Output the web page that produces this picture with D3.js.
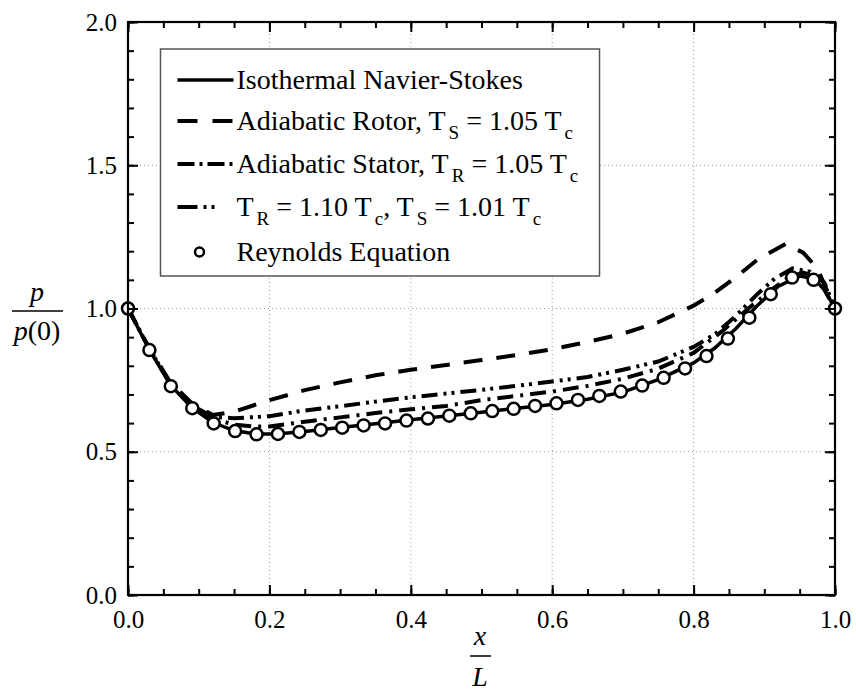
<!DOCTYPE html>
<html>
<head>
<meta charset="utf-8">
<script src="https://cdn.jsdelivr.net/npm/d3@7"></script>
<style>
  body { margin: 0; background: #fff; }
  svg text { font-family: "Liberation Serif", "Times New Roman", Times, serif; fill: #000; }
</style>
</head>
<body>
<div class="chart"></div>
<script>
// Isothermal Navier-Stokes (solid)
var isoX = [0, 0.03, 0.06, 0.09, 0.12, 0.15, 0.18, 0.21, 0.25, 0.30, 0.35, 0.40, 0.45, 0.50, 0.55, 0.60, 0.65, 0.70, 0.75, 0.80, 0.83, 0.86, 0.89, 0.92, 0.95, 0.97, 0.985, 1.0];
var isoY = [1.0, 0.857, 0.733, 0.655, 0.602, 0.574, 0.562, 0.562, 0.571, 0.585, 0.598, 0.612, 0.625, 0.638, 0.652, 0.665, 0.683, 0.708, 0.752, 0.81, 0.862, 0.93, 1.01, 1.078, 1.113, 1.105, 1.065, 1.0];

// Adiabatic rotor (dashed)
var rotorX = [0, 0.03, 0.06, 0.09, 0.12, 0.15, 0.20, 0.25, 0.30, 0.35, 0.40, 0.45, 0.50, 0.55, 0.60, 0.65, 0.70, 0.75, 0.80, 0.83, 0.86, 0.89, 0.93, 0.955, 0.975, 1.0];
var rotorY = [1.0, 0.862, 0.742, 0.67, 0.628, 0.64, 0.68, 0.715, 0.742, 0.767, 0.786, 0.803, 0.82, 0.838, 0.858, 0.883, 0.912, 0.952, 1.01, 1.055, 1.11, 1.17, 1.225, 1.195, 1.14, 1.0];

// Adiabatic stator (dash-dot)
var statorX = [0, 0.03, 0.06, 0.09, 0.12, 0.15, 0.18, 0.20, 0.25, 0.30, 0.35, 0.40, 0.45, 0.50, 0.55, 0.60, 0.65, 0.70, 0.75, 0.80, 0.84, 0.88, 0.91, 0.935, 0.955, 0.975, 1.0];
var statorY = [1.0, 0.86, 0.737, 0.662, 0.615, 0.595, 0.588, 0.588, 0.605, 0.62, 0.635, 0.648, 0.66, 0.68, 0.695, 0.71, 0.73, 0.755, 0.79, 0.845, 0.92, 1.005, 1.065, 1.11, 1.125, 1.11, 1.0];

// T_R = 1.10 Tc, T_S = 1.01 Tc (dash-dot-dot)
var bothX = [0, 0.03, 0.06, 0.09, 0.12, 0.15, 0.20, 0.25, 0.30, 0.35, 0.40, 0.45, 0.50, 0.55, 0.60, 0.65, 0.70, 0.75, 0.80, 0.83, 0.86, 0.89, 0.915, 0.94, 0.965, 0.985, 1.0];
var bothY = [1.0, 0.86, 0.737, 0.662, 0.622, 0.617, 0.624, 0.644, 0.659, 0.675, 0.69, 0.703, 0.716, 0.73, 0.745, 0.761, 0.786, 0.815, 0.866, 0.91, 0.975, 1.05, 1.105, 1.14, 1.128, 1.09, 1.0];

// Reynolds equation (circles), x = i/33
var reyX = [0, 0.0303, 0.0606, 0.0909, 0.1212, 0.1515, 0.1818, 0.2121, 0.2424, 0.2727, 0.3030, 0.3333, 0.3636, 0.3939, 0.4242, 0.4545, 0.4848, 0.5152, 0.5455, 0.5758, 0.6061, 0.6364, 0.6667, 0.6970, 0.7273, 0.7576, 0.7879, 0.8182, 0.8485, 0.8788, 0.9091, 0.9394, 0.9697, 1.0];
var reyY = [1.0, 0.855, 0.729, 0.652, 0.599, 0.572, 0.561, 0.562, 0.569, 0.576, 0.584, 0.592, 0.599, 0.609, 0.616, 0.626, 0.634, 0.642, 0.650, 0.660, 0.669, 0.681, 0.695, 0.710, 0.731, 0.758, 0.791, 0.834, 0.895, 0.968, 1.050, 1.108, 1.100, 1.0];

var xTicks = [0, 0.2, 0.4, 0.6, 0.8, 1.0];
var yTicks = [0, 0.5, 1.0, 1.5, 2.0];

var W = 856, H = 692;
var margin = {top: 22, right: 21, bottom: 97, left: 128};
var width = W - margin.left - margin.right, height = H - margin.top - margin.bottom;
var serif = "'Liberation Serif', 'Times New Roman', Times, serif";

var svg = d3.select(".chart").append("svg")
  .attr("width", W).attr("height", H)
  .attr("font-family", serif)
  .append("g")
  .attr("transform", "translate(" + margin.left + "," + margin.top + ")");

var x = d3.scaleLinear().domain([0, 1]).range([0, width]);
var y = d3.scaleLinear().domain([0, 2]).range([height, 0]);

// grid
svg.append("g").selectAll("line").data(xTicks.slice(1, -1)).enter().append("line")
  .attr("x1", function(d) { return x(d); }).attr("x2", function(d) { return x(d); })
  .attr("y1", 0).attr("y2", height)
  .attr("stroke", "#999").attr("stroke-width", 1).attr("stroke-dasharray", "1,3");
svg.append("g").selectAll("line").data(yTicks.slice(1, -1)).enter().append("line")
  .attr("y1", function(d) { return y(d); }).attr("y2", function(d) { return y(d); })
  .attr("x1", 0).attr("x2", width)
  .attr("stroke", "#999").attr("stroke-width", 1).attr("stroke-dasharray", "1,3");

function pts(xs, ys) { return xs.map(function(d, i) { return [d, ys[i]]; }); }
var line = d3.line().x(function(d) { return x(d[0]); }).y(function(d) { return y(d[1]); });

var series = [
  {data: pts(bothX, bothY), dash: "16,6,3,5,3,6", w: 4},
  {data: pts(statorX, statorY), dash: "16,7,3,7", w: 4},
  {data: pts(rotorX, rotorY), dash: "19,14", w: 4},
  {data: pts(isoX, isoY), dash: null, w: 3.5}
];

svg.selectAll(".curve").data(series).enter().append("path")
  .attr("class", "curve")
  .attr("d", function(d) { return line(d.data); })
  .attr("fill", "none").attr("stroke", "#000")
  .attr("stroke-width", function(d) { return d.w; })
  .attr("stroke-dasharray", function(d) { return d.dash; });

svg.selectAll(".rey").data(pts(reyX, reyY)).enter().append("circle")
  .attr("class", "rey")
  .attr("cx", function(d) { return x(d[0]); })
  .attr("cy", function(d) { return y(d[1]); })
  .attr("r", 6).attr("fill", "#fff").attr("stroke", "#000").attr("stroke-width", 2.5);

// axes: ticks inward on all four sides
function drawAxis(axis, tr) {
  var g = svg.append("g").attr("transform", tr).call(axis);
  g.attr("font-family", serif);
  g.select(".domain").remove();
  g.selectAll("line").attr("stroke", "#000").attr("stroke-width", 2);
  return g;
}
var xMinor = d3.range(0, 1.0001, 0.05);
var yMinor = d3.range(0, 2.0001, 0.1);

drawAxis(d3.axisBottom(x).tickValues(xMinor).tickSize(-6).tickFormat(""), "translate(0," + height + ")");
drawAxis(d3.axisTop(x).tickValues(xMinor).tickSize(-6).tickFormat(""), "translate(0,0)");
drawAxis(d3.axisLeft(y).tickValues(yMinor).tickSize(-6).tickFormat(""), "translate(0,0)");
drawAxis(d3.axisRight(y).tickValues(yMinor).tickSize(-6).tickFormat(""), "translate(" + width + ",0)");

var xb = drawAxis(d3.axisBottom(x).tickValues(xTicks).tickSize(-10).tickPadding(24).tickFormat(d3.format(".1f")), "translate(0," + height + ")");
xb.selectAll("text").attr("font-size", 25).attr("dy", "0.35em");
drawAxis(d3.axisTop(x).tickValues(xTicks).tickSize(-10).tickFormat(""), "translate(0,0)");
var yl = drawAxis(d3.axisLeft(y).tickValues(yTicks).tickSize(-10).tickPadding(11).tickFormat(d3.format(".1f")), "translate(0,0)");
yl.selectAll("text").attr("font-size", 25);
drawAxis(d3.axisRight(y).tickValues(yTicks).tickSize(-10).tickFormat(""), "translate(" + width + ",0)");

svg.append("rect").attr("x", 0).attr("y", 0).attr("width", width).attr("height", height)
  .attr("fill", "none").attr("stroke", "#000").attr("stroke-width", 2.2);

// legend
var lg = svg.append("g").attr("transform", "translate(" + (160.5 - margin.left) + "," + (49 - margin.top) + ")");
lg.append("rect").attr("width", 439).attr("height", 227)
  .attr("fill", "#fff").attr("stroke", "#555").attr("stroke-width", 1.5);

var legendRows = [
  {y: 31, dash: null, w: 3.5, parts: [["Isothermal Navier-Stokes"]]},
  {y: 72, dash: "20,15", w: 4, parts: [["Adiabatic Rotor, T"], ["S", 1], [" = 1.05 T"], ["c", 1]]},
  {y: 115, dash: "17,5,3,5,17,5,3", w: 4, parts: [["Adiabatic Stator, T"], ["R", 1], [" = 1.05 T"], ["c", 1]]},
  {y: 158, dash: "20,6,3,5,3,30", w: 4, parts: [["T"], ["R", 1], [" = 1.10 T"], ["c", 1], [", T"], ["S", 1], [" = 1.01 T"], ["c", 1]]},
  {y: 203, marker: true, parts: [["Reynolds Equation"]]}
];

legendRows.forEach(function(r) {
  if (r.marker) {
    lg.append("circle").attr("cx", 39).attr("cy", r.y).attr("r", 4.5)
      .attr("fill", "#fff").attr("stroke", "#000").attr("stroke-width", 2.5);
  } else {
    lg.append("line").attr("x1", 17).attr("x2", 73).attr("y1", r.y).attr("y2", r.y)
      .attr("stroke", "#000").attr("stroke-width", r.w).attr("stroke-dasharray", r.dash);
  }
  var t = lg.append("text").attr("x", 76).attr("y", r.y + 9).attr("font-size", 28);
  var shifted = false;
  r.parts.forEach(function(p) {
    var sp = t.append("tspan").text(p[0]);
    if (p[1]) { sp.attr("font-size", 19).attr("dy", 9).attr("dx", 3); shifted = true; }
    else if (shifted) { sp.attr("dy", -9); shifted = false; }
  });
});

// axis titles as fractions
var ylab = svg.append("g").attr("transform", "translate(" + (37 - margin.left) + "," + (311 - margin.top) + ")");
ylab.append("text").attr("x", 0).attr("y", -10).attr("text-anchor", "middle")
  .attr("font-size", 28).attr("font-style", "italic").text("p");
ylab.append("line").attr("x1", -25).attr("x2", 26).attr("y1", 0).attr("y2", 0)
  .attr("stroke", "#000").attr("stroke-width", 1.5);
var den = ylab.append("text").attr("x", 0).attr("y", 29).attr("text-anchor", "middle").attr("font-size", 28);
den.append("tspan").attr("font-style", "italic").text("p");
den.append("tspan").text("(0)");

var xlab = svg.append("g").attr("transform", "translate(" + (480 - margin.left) + "," + (656 - margin.top) + ")");
xlab.append("text").attr("x", 0).attr("y", -11).attr("text-anchor", "middle")
  .attr("font-size", 28).attr("font-style", "italic").text("x");
xlab.append("line").attr("x1", -10).attr("x2", 11).attr("y1", 0).attr("y2", 0)
  .attr("stroke", "#000").attr("stroke-width", 1.5);
xlab.append("text").attr("x", 0).attr("y", 30).attr("text-anchor", "middle")
  .attr("font-size", 28).attr("font-style", "italic").text("L");
</script>
</body>
</html>
